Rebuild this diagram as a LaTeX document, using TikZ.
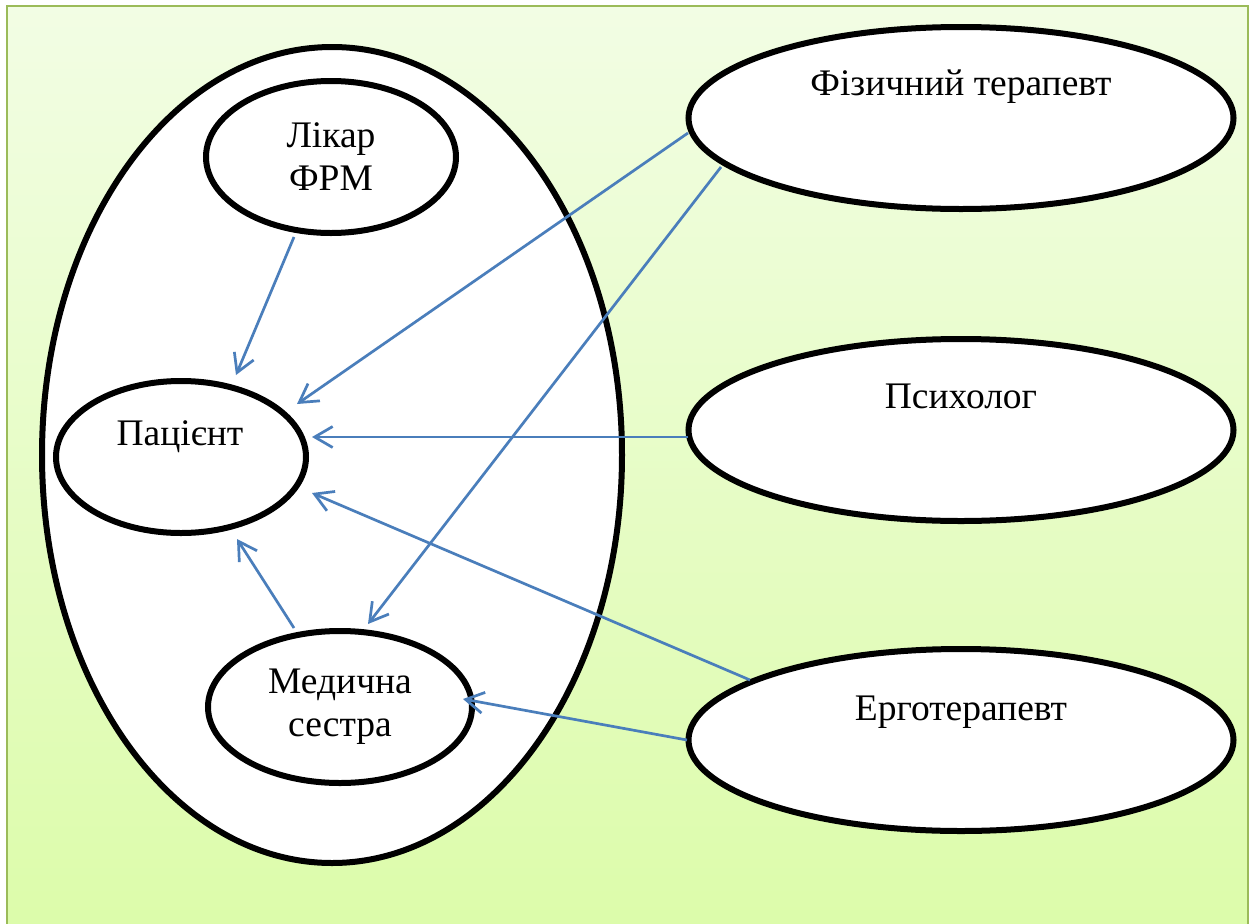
\documentclass[tikz,border=0pt]{standalone}
\usepackage{fontspec}
\setmainfont{Liberation Serif}
\usetikzlibrary{shapes.geometric,arrows.meta}
\definecolor{bgtop}{RGB}{242,253,228}
\definecolor{bgbot}{RGB}{220,252,170}
\definecolor{framegreen}{RGB}{155,187,89}
\definecolor{arrowblue}{RGB}{74,126,187}
\begin{document}
\begin{tikzpicture}[x=1pt,y=-1pt,
  ell/.style={ellipse,draw=black,line width=6pt,fill=white,inner sep=0pt},
  lbl/.style={font=\fontsize{37.5}{43}\selectfont,align=center,inner sep=0pt},
  conn/.style={draw=arrowblue,line width=2.7pt,-{Straight Barb[length=18pt,width=21pt]}}]
\useasboundingbox (0,0) rectangle (1251,924);
\shade[top color=bgtop,bottom color=bgbot] (7,6) rectangle (1248,930);
\draw[framegreen,line width=2.5pt] (7,6) rectangle (1248,930);

% ellipses
\node[ell,minimum width=580pt,minimum height=816pt] (team) at (332,455) {};
\node[ell,lbl,minimum width=250pt,minimum height=152pt] (lik) at (331,157) {Лікар\\ФРМ};
\node[ell,minimum width=250pt,minimum height=152pt] (pac) at (181,457) {};
\node[ell,lbl,minimum width=264pt,minimum height=152pt] (med) at (340,707) {Медична\\сестра};
\node[ell,minimum width=545pt,minimum height=182pt] (fiz) at (961,118) {};
\node[ell,minimum width=545pt,minimum height=182pt] (psy) at (961,430) {};
\node[ell,minimum width=545pt,minimum height=182pt] (erg) at (961,740) {};

% labels
\node[lbl,anchor=base] (pac-t) at (180,445) {Пацієнт};
\node[lbl,anchor=base] (fiz-t) at (961,95) {Фізичний терапевт};
\node[lbl,anchor=base] (psy-t) at (961,408) {Психолог};
\node[lbl,anchor=base] (erg-t) at (961,720) {Ерготерапевт};

% connector end points
\coordinate (a1s) at (294,237); \coordinate (a1e) at (236,375);
\coordinate (a2s) at (688,133); \coordinate (a2e) at (297,404);
\coordinate (a3s) at (721,167); \coordinate (a3e) at (368,624);
\coordinate (a4s) at (688,437); \coordinate (a4e) at (312,437);
\coordinate (a5s) at (750,680); \coordinate (a5e) at (312,493);
\coordinate (a6s) at (687,740); \coordinate (a6e) at (463,699);
\coordinate (a7s) at (294,628); \coordinate (a7e) at (237,539);

\draw[conn] (a1s) -- (a1e);
\draw[conn] (a2s) -- (a2e);
\draw[conn] (a3s) -- (a3e);
\draw[conn] (a4s) -- (a4e);
\draw[conn] (a5s) -- (a5e);
\draw[conn] (a6s) -- (a6e);
\draw[conn] (a7s) -- (a7e);
\end{tikzpicture}
\end{document}
